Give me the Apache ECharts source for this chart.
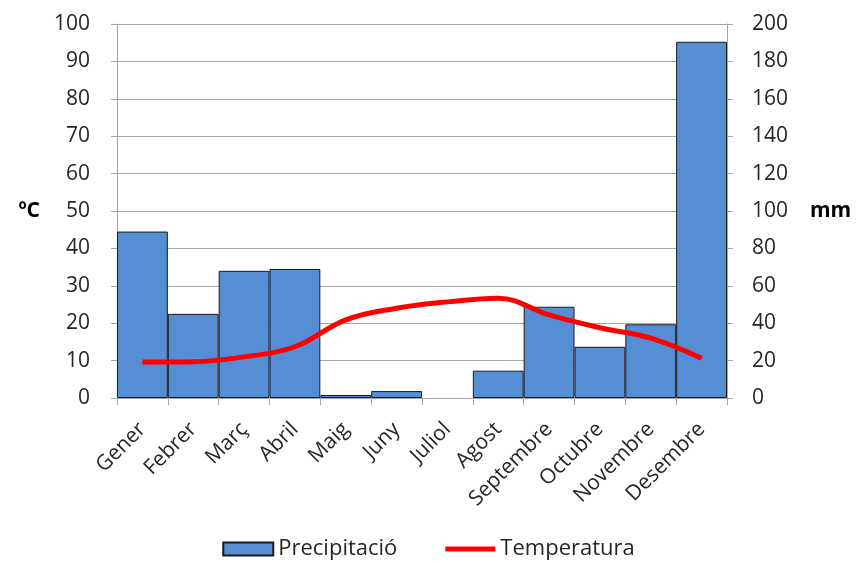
<!DOCTYPE html>
<html>
<head>
<meta charset="utf-8">
<script src="https://cdn.jsdelivr.net/npm/echarts@6/dist/echarts.min.js"></script>
<style>html,body{margin:0;padding:0;background:#fff}#c{width:857px;height:563px}</style>
</head>
<body>
<div id="c"></div>
<script>
const months = ['Gener','Febrer','Març','Abril','Maig','Juny','Juliol','Agost','Septembre','Octubre','Novembre','Desembre'];
const precipitacio = [89, 45, 68, 69, 1.6, 3.7, 0, 14.6, 48.8, 27.4, 39.4, 190.5];
const temperatura = [9.6, 9.7, 11.0, 13.7, 20.9, 24.0, 25.7, 26.7, 22.2, 18.8, 16.0, 10.6];
const FONT = "'Open Sans', sans-serif";
const chart = echarts.init(document.getElementById('c'));
chart.setOption({
  animation: false,
  grid: {left: 117, right: 130, top: 24, bottom: 165, containLabel: false, outerBoundsMode: 'none'},
  legend: {
    bottom: -2, left: 'center', itemGap: 48, itemWidth: 50, itemHeight: 13,
    textStyle: {fontFamily: FONT, fontSize: 22, color: '#262626'},
    data: [
      {name: 'Precipitació', icon: 'rect'},
      {name: 'Temperatura', icon: 'path://M0,0 L50,0 L50,5 L0,5 Z', itemStyle: {color: '#ff0000'}}
    ]
  },
  xAxis: {
    type: 'category', data: months, boundaryGap: true,
    axisLine: {lineStyle: {color: '#a6a6a6'}},
    axisTick: {show: true, length: 7, lineStyle: {color: '#a6a6a6'}},
    axisLabel: {rotate: 45, fontFamily: FONT, fontSize: 21, color: '#262626', margin: 28, interval: 0}
  },
  yAxis: [
    {
      type: 'value', min: 0, max: 100, interval: 10, name: 'ºC',
      nameLocation: 'middle', nameRotate: 0, nameGap: 77,
      nameTextStyle: {fontFamily: FONT, fontSize: 21, fontWeight: 'bold', color: '#000'},
      axisLine: {show: true, lineStyle: {color: '#a6a6a6'}},
      axisTick: {show: true, length: 6, lineStyle: {color: '#a6a6a6'}},
      axisLabel: {fontFamily: FONT, fontSize: 21, color: '#262626', margin: 27},
      splitLine: {lineStyle: {color: '#a6a6a6', width: 1}}
    },
    {
      type: 'value', min: 0, max: 200, interval: 20, name: 'mm',
      nameLocation: 'middle', nameRotate: 0, nameGap: 83,
      nameTextStyle: {fontFamily: FONT, fontSize: 21, fontWeight: 'bold', color: '#000'},
      axisLine: {show: true, lineStyle: {color: '#a6a6a6'}},
      axisTick: {show: true, length: 6, lineStyle: {color: '#a6a6a6'}},
      axisLabel: {fontFamily: FONT, fontSize: 21, color: '#262626', margin: 25},
      splitLine: {show: false}
    }
  ],
  series: [
    {
      name: 'Precipitació', type: 'bar', yAxisIndex: 1,
      data: precipitacio.map(v => v === 0 ? {value: v, itemStyle: {borderWidth: 0}} : v),
      barCategoryGap: '0%',
      itemStyle: {color: '#558ed5', borderColor: '#1a1a1a', borderWidth: 1}
    },
    {
      name: 'Temperatura', type: 'line', yAxisIndex: 0, data: temperatura,
      smooth: 0.4, symbol: 'none',
      lineStyle: {color: '#ff0000', width: 5},
      itemStyle: {color: '#ff0000'}
    }
  ]
});
</script>
</body>
</html>
